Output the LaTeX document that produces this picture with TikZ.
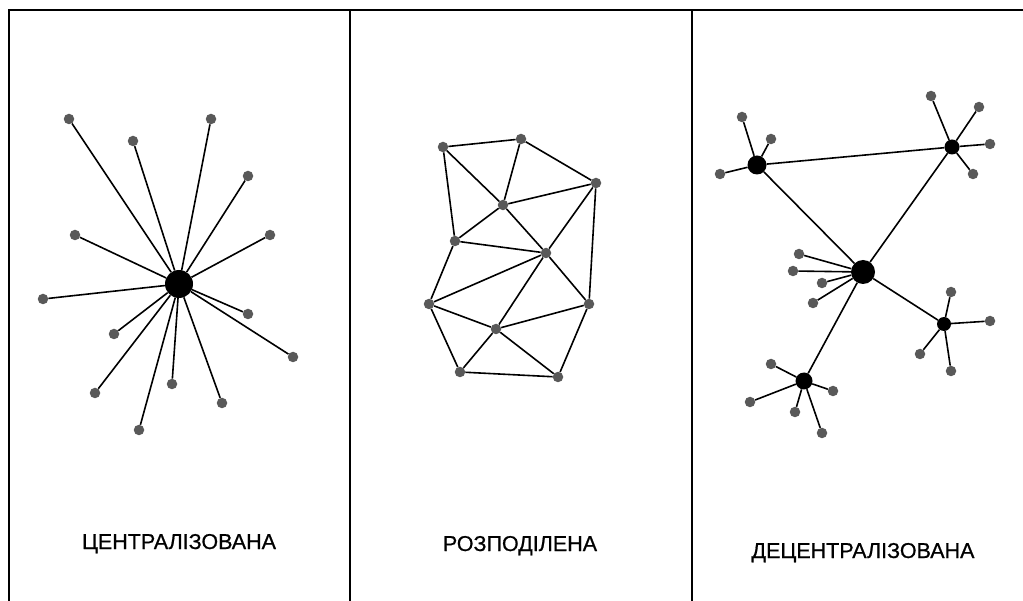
\documentclass[tikz,border=0pt]{standalone}
\usepackage{fontspec}
\setmainfont{Liberation Sans}
\newfontfamily\lblfont[FakeBold=0.7]{Liberation Sans}
\begin{document}
\begin{tikzpicture}[x=1pt,y=-1pt,
  leaf/.style={circle,fill=black!65,inner sep=0pt,minimum size=10.5pt},
  hub/.style={circle,fill=black,inner sep=0pt,minimum size=#1},
  edge/.style={line width=1.6pt,black},
  frame/.style={line width=2pt,black},
  lbl/.style={font=\lblfont\fontsize{21.5}{24}\selectfont,anchor=base}]
\useasboundingbox (0,0) rectangle (1023,601);
% frame
\coordinate (f0) at (9,10);
\coordinate (f1) at (1023,10);
\coordinate (f2) at (9,601);
\coordinate (d1t) at (350,10);
\coordinate (d1b) at (350,601);
\coordinate (d2t) at (692,10);
\coordinate (d2b) at (692,601);
\draw[frame] (f2) -- (f0) -- (f1);
\draw[frame] (d1t) -- (d1b);
\draw[frame] (d2t) -- (d2b);

% ---- centralised
\node[hub=28pt] (c) at (179,284) {};
\foreach \i/\x/\y in {1/69/119,2/133/141,3/211/119,4/248/176,5/270/235,6/75/235,7/43/299,8/248/314,9/293/357,10/114/334,11/95/393,12/172/384,13/222/403,14/139/430}{
  \node[leaf] (c\i) at (\x,\y) {};
  \draw[edge] (c) -- (c\i);
}
\node[lbl] (l1) at (179,549) {ЦЕНТРАЛІЗОВАНА};

% ---- distributed
\foreach \n/\x/\y in {A/443/147,B/521/139,C/596/183,D/503/205,E/455/241,F/546/253,G/429/304,H/589/304,I/496/329,J/460/372,K/558/377}{
  \node[leaf] (\n) at (\x,\y) {};
}
\foreach \a/\b in {A/B,B/C,A/D,B/D,D/C,A/E,D/E,D/F,E/F,C/F,C/H,F/H,E/G,G/F,G/I,I/F,I/H,G/J,J/I,I/K,J/K,H/K}{
  \draw[edge] (\a) -- (\b);
}
\node[lbl] (l2) at (520,551) {РОЗПОДІЛЕНА};

% ---- decentralised
\node[hub=24pt] (m) at (863,272) {};
\node[hub=19pt] (tl) at (757,165) {};
\node[hub=15pt] (tr) at (952,147) {};
\node[hub=14pt] (r) at (944,324) {};
\node[hub=17pt] (bl) at (804,381) {};
\draw[edge] (tl) -- (tr);
\draw[edge] (tl) -- (m);
\draw[edge] (tr) -- (m);
\draw[edge] (m) -- (r);
\draw[edge] (m) -- (bl);
\foreach \h/\i/\x/\y in {tl/1/742/117,tl/2/771/139,tl/3/720/174,
  tr/1/931/96,tr/2/979/107,tr/3/990/144,tr/4/973/174,
  m/1/799/254,m/2/793/271,m/3/822/283,m/4/813/303,
  r/1/951/292,r/2/990/321,r/3/920/354,r/4/951/371,
  bl/1/771/364,bl/2/750/402,bl/3/833/391,bl/4/795/412,bl/5/822/433}{
  \node[leaf] (\h\i) at (\x,\y) {};
  \draw[edge] (\h) -- (\h\i);
}
\node[lbl] (l3) at (863,558) {ДЕЦЕНТРАЛІЗОВАНА};
\end{tikzpicture}
\end{document}
